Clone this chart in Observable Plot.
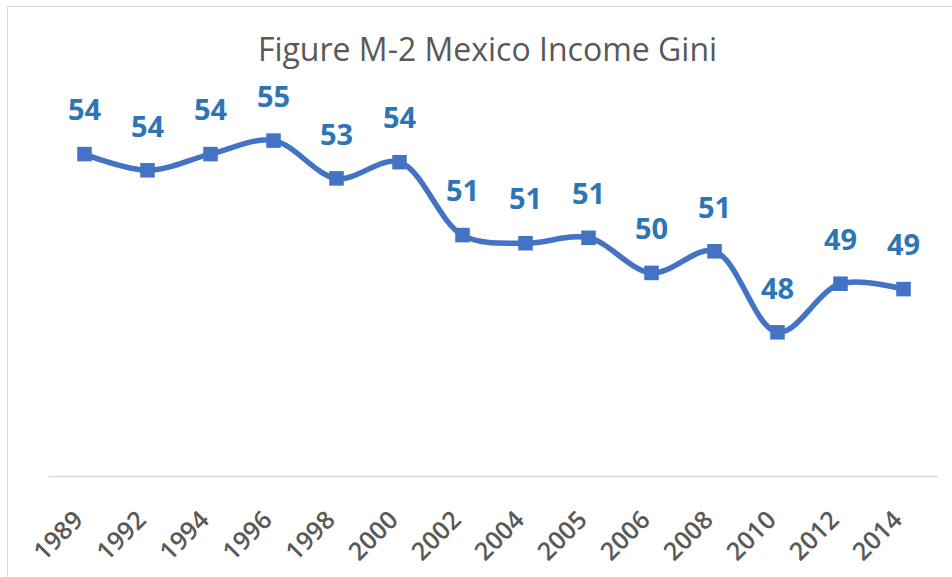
<!DOCTYPE html>
<html>
<head>
<meta charset="utf-8">
<script src="https://cdn.jsdelivr.net/npm/d3@7"></script>
<script src="https://cdn.jsdelivr.net/npm/@observablehq/plot@0.6"></script>
<style>
  body { margin: 0; background: #fff; }
  #wrap { position: relative; width: 952px; height: 577px; overflow: hidden; background: #fff; font-family: "Open Sans", sans-serif; }
  #border { position: absolute; left: 7px; top: 6px; width: 1100px; height: 1100px; border: 1.5px solid #d9d9d9; box-sizing: border-box; }
  #title { position: absolute; left: 23px; width: 929px; top: 32.5px; line-height: 32px; text-align: center; font-size: 32px; color: #595959; white-space: nowrap; }
  #chart { position: absolute; left: 0; top: 0; }
</style>
</head>
<body>
<div id="wrap">
  <div id="border"></div>
  <div id="chart"></div>
  <div id="title">Figure M-2 Mexico Income Gini</div>
</div>
<script>
const years = ["1989","1992","1994","1996","1998","2000","2002","2004","2005","2006","2008","2010","2012","2014"];
const gini  = [54.2, 53.6, 54.2, 54.7, 53.3, 53.9, 51.2, 50.9, 51.1, 49.8, 50.6, 47.6, 49.4, 49.2];

const data = years.map((year, i) => ({year, gini: gini[i]}));
const fmt = d3.format(".0f");

const chart = Plot.plot({
  width: 952,
  height: 577,
  marginLeft: 49,
  marginRight: 15,
  marginTop: 105,
  marginBottom: 101,
  style: {background: "transparent", fontFamily: "Open Sans, sans-serif"},
  x: {type: "point", domain: years, padding: 0.5, axis: null},
  y: {domain: [42, 56], range: [483, 105], axis: null},
  marks: [
    Plot.frame({anchor: "bottom", stroke: "#d9d9d9", strokeWidth: 1.5}),
    Plot.line(data, {x: "year", y: "gini", stroke: "#4472C4", strokeWidth: 5.5, curve: "catmull-rom"}),
    Plot.dot(data, {x: "year", y: "gini", symbol: "square", r: 8.2, fill: "#4472C4", stroke: "none"}),
    Plot.text(data, {x: "year", y: "gini", text: d => fmt(d.gini), dy: -43, fill: "#2E75B6", fontSize: 29, fontWeight: "bold"}),
    Plot.text(years, {x: d => d, frameAnchor: "bottom", rotate: -45, textAnchor: "end", dx: 0, dy: 45, fill: "#595959", fontSize: 25, fontWeight: 600})
  ]
});
document.getElementById("chart").appendChild(chart);
</script>
</body>
</html>
